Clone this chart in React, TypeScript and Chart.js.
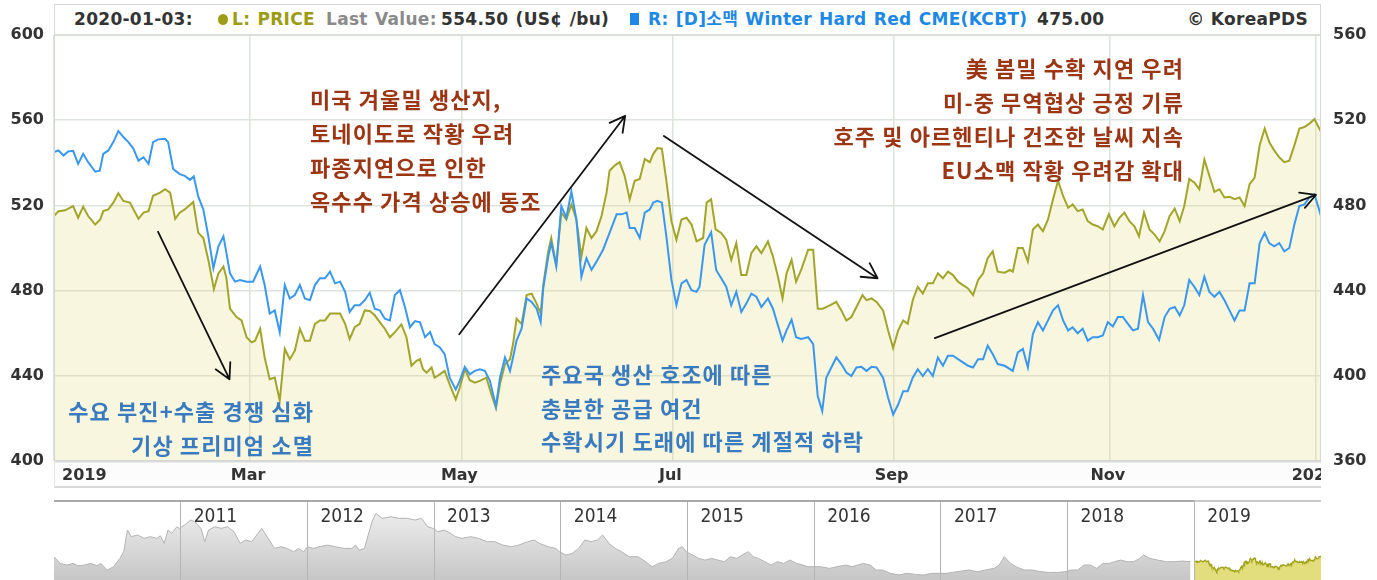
import React, { useEffect, useRef } from 'react';
import { Chart, registerables } from 'chart.js';

Chart.register(...registerables);

// ---- axis ticks (x = trading-day index in 2019 .. 2020-01-03) ----
const xTickIndex = [0, 39, 81, 123, 167, 210, 251];
const xTickLabels = ['2019', 'Mar', 'May', 'Jul', 'Sep', 'Nov', '2020'];
const leftTicks = [400, 440, 480, 520, 560, 600];
const rightTicks = [360, 400, 440, 480, 520, 560];

// ---- L: PRICE (US¢/bu) [trading-day index, value] ----
const priceSeries: [number, number][] = [
  [0, 515.0], [0.9, 517.3], [2.2, 517.7], [3.8, 519.7], [4.8, 514.2], [5.8, 519.4], [6.8, 515.0], [8.2, 511.0], [9.2, 513.4], [9.8, 517.3],
  [10.8, 518.1], [11.8, 521.3], [12.8, 525.7], [13.8, 522.1], [15.1, 521.3], [16.8, 513.7], [17.8, 516.6], [18.8, 517.3], [19.7, 524.5], [21.1, 526.0],
  [22.1, 527.6], [23.1, 526.0], [24.1, 513.7], [25.0, 516.6], [26.0, 518.1], [27.7, 521.6], [28.7, 507.1], [29.7, 504.7], [30.7, 494.4], [31.8, 480.7],
  [32.7, 488.1], [33.7, 491.3], [34.3, 485.8], [35.0, 471.5], [36.3, 467.6], [37.3, 466.0], [38.3, 458.1], [39.3, 455.7], [40.0, 456.5], [41.0, 462.1],
  [41.9, 448.6], [42.9, 438.4], [43.9, 439.2], [44.9, 428.4], [45.9, 452.6], [46.9, 447.8], [47.9, 451.8], [48.9, 462.1], [49.9, 456.5], [50.9, 456.5],
  [51.9, 464.4], [52.9, 466.0], [53.9, 466.0], [54.9, 469.2], [56.9, 469.2], [57.9, 464.4], [58.8, 457.3], [59.8, 462.8], [60.8, 464.4], [61.8, 470.7],
  [62.8, 470.4], [63.8, 468.4], [64.8, 465.2], [65.8, 462.1], [66.8, 458.1], [67.8, 460.5], [69.1, 464.1], [70.1, 458.1], [71.1, 444.7], [72.1, 447.0],
  [72.8, 447.8], [73.4, 443.1], [74.1, 441.5], [75.1, 443.9], [75.7, 439.1], [76.7, 440.7], [77.7, 442.3], [78.7, 436.0], [79.9, 428.9], [80.7, 434.4],
  [81.7, 443.1], [82.7, 437.9], [83.7, 436.8], [84.7, 437.6], [86.0, 439.1], [87.0, 431.2], [87.9, 424.9], [88.7, 436.0], [89.7, 445.5], [90.7, 447.8],
  [91.3, 454.9], [92.0, 466.8], [93.0, 464.4], [94.0, 477.9], [95.0, 478.6], [96.0, 473.9], [96.8, 469.2], [97.3, 482.6], [98.3, 498.4], [98.9, 504.7],
  [99.9, 492.1], [100.9, 516.6], [101.9, 513.4], [102.9, 520.5], [103.9, 513.4], [104.9, 496.0], [105.9, 509.4], [106.9, 504.7], [107.9, 507.9], [108.9, 515.0],
  [109.9, 526.0], [110.5, 536.3], [111.5, 538.7], [112.5, 540.3], [113.5, 533.9], [114.5, 522.9], [115.5, 531.6], [116.5, 532.4], [117.5, 541.8], [118.5, 540.3],
  [119.2, 544.2], [120.0, 546.9], [120.9, 546.6], [121.8, 531.6], [122.8, 512.6], [123.8, 503.9], [124.8, 513.4], [125.8, 514.2], [126.8, 511.0], [127.8, 503.1],
  [129.1, 504.7], [129.8, 521.3], [130.7, 522.9], [131.6, 508.7], [132.7, 507.1], [133.7, 503.9], [134.7, 494.4], [135.7, 502.3], [136.7, 487.3], [137.7, 487.3],
  [138.7, 497.6], [139.7, 500.8], [140.7, 497.6], [142.0, 503.1], [143.0, 496.0], [144.0, 486.5], [144.9, 476.3], [145.7, 488.1], [146.7, 494.4], [147.6, 484.2],
  [148.6, 489.7], [150.0, 499.2], [151.0, 499.2], [151.9, 471.5], [152.9, 471.5], [154.3, 473.1], [155.6, 474.7], [156.6, 470.7], [157.6, 466.0], [158.6, 467.6],
  [159.6, 472.3], [160.8, 477.9], [161.6, 475.5], [162.6, 476.3], [163.6, 474.7], [164.9, 470.7], [165.9, 461.3], [166.9, 453.0], [167.9, 461.3], [168.9, 466.0],
  [169.8, 464.4], [170.8, 475.5], [171.8, 481.8], [172.8, 478.6], [173.8, 483.4], [174.8, 483.4], [175.8, 488.1], [176.8, 485.8], [177.8, 488.9], [178.8, 487.3],
  [179.8, 484.2], [180.8, 482.6], [181.8, 481.0], [182.8, 477.9], [183.8, 485.0], [184.8, 488.1], [185.7, 495.2], [186.7, 498.4], [187.7, 488.9], [189.1, 488.4],
  [190.1, 489.7], [190.7, 488.9], [191.7, 500.0], [192.7, 500.0], [193.7, 493.6], [194.7, 508.7], [195.7, 511.0], [196.7, 507.9], [197.7, 513.4], [198.7, 522.9],
  [199.7, 531.6], [200.7, 524.5], [201.7, 518.9], [202.6, 520.5], [203.6, 517.3], [204.6, 518.1], [205.6, 512.6], [206.6, 511.0], [207.6, 510.2], [208.6, 508.7],
  [209.8, 515.8], [210.9, 510.2], [211.9, 514.2], [212.9, 516.6], [213.9, 512.6], [214.9, 510.2], [215.8, 505.5], [216.8, 516.6], [217.9, 508.7], [218.9, 506.3],
  [219.9, 503.1], [220.9, 507.9], [221.9, 515.0], [222.9, 518.5], [223.9, 512.6], [224.8, 519.7], [225.8, 532.4], [226.8, 530.8], [227.8, 527.6], [228.8, 541.5],
  [229.8, 533.9], [230.8, 526.4], [231.8, 527.6], [232.8, 523.7], [233.8, 524.1], [234.8, 522.9], [235.8, 523.7], [236.8, 519.7], [237.8, 530.0], [238.8, 533.1],
  [239.8, 548.2], [240.8, 556.1], [241.7, 549.7], [242.7, 545.8], [243.7, 542.6], [244.7, 540.3], [245.7, 541.0], [246.7, 548.2], [247.7, 556.1], [248.7, 556.8],
  [249.7, 558.4], [250.7, 560.5], [252, 554.5],
];

// ---- R: [D]소맥 Winter Hard Red CME(KCBT) [trading-day index, value] ----
const kcbtSeries: [number, number][] = [
  [0, 505.0], [0.9, 505.8], [1.9, 503.4], [2.8, 505.3], [3.8, 505.6], [4.8, 499.5], [5.8, 504.2], [6.8, 500.3], [8.2, 495.8], [9.1, 496.3],
  [9.8, 504.2], [10.8, 505.8], [11.8, 509.7], [12.8, 514.9], [13.8, 512.1], [14.8, 509.7], [15.8, 506.6], [16.8, 501.0], [17.8, 502.6], [18.8, 499.5],
  [19.7, 509.7], [20.7, 511.0], [22.1, 511.3], [22.7, 509.7], [23.7, 497.1], [25.0, 494.7], [26.0, 493.9], [27.0, 492.0], [27.8, 493.6], [28.7, 484.1],
  [29.7, 478.1], [30.7, 465.5], [31.7, 450.5], [32.7, 460.8], [33.7, 465.5], [34.3, 457.6], [35.0, 448.1], [36.0, 444.2], [37.0, 445.0], [38.3, 444.2],
  [39.6, 444.2], [41.0, 451.3], [41.9, 442.6], [42.9, 429.2], [43.9, 430.7], [44.9, 420.5], [45.9, 442.6], [46.9, 436.3], [47.9, 437.9], [48.9, 442.6],
  [49.9, 436.3], [50.9, 435.5], [51.9, 442.6], [52.9, 445.8], [53.9, 445.8], [54.9, 448.9], [55.9, 443.4], [56.9, 444.2], [57.9, 439.4], [58.8, 430.0],
  [59.8, 433.1], [60.8, 433.1], [61.8, 435.5], [62.8, 439.0], [63.8, 431.5], [64.8, 430.7], [65.8, 426.8], [66.8, 426.0], [67.8, 437.9], [68.8, 440.2],
  [69.8, 432.3], [70.8, 422.8], [71.8, 425.7], [72.8, 425.1], [73.8, 418.1], [74.8, 420.5], [75.7, 414.9], [76.7, 413.4], [77.7, 410.2], [78.7, 399.1],
  [79.9, 393.6], [80.7, 397.6], [81.7, 404.2], [82.7, 400.7], [83.7, 402.3], [84.7, 403.1], [85.7, 402.3], [86.7, 397.6], [87.9, 385.7], [88.7, 399.1],
  [89.7, 408.6], [90.7, 402.3], [91.3, 408.6], [92.0, 416.5], [93.0, 422.1], [94.0, 436.3], [95.0, 434.7], [96.0, 431.5], [96.8, 425.2], [97.3, 441.0],
  [98.3, 456.0], [98.9, 462.3], [99.9, 451.3], [100.9, 479.7], [101.9, 474.2], [102.9, 486.4], [103.9, 473.4], [104.9, 446.5], [105.9, 455.2], [106.9, 449.7],
  [107.9, 453.6], [109.2, 459.2], [110.5, 467.1], [111.9, 475.8], [112.9, 475.8], [113.9, 476.6], [114.5, 469.4], [115.5, 469.4], [116.5, 464.7], [117.5, 476.6],
  [118.5, 478.1], [119.2, 481.3], [120.0, 482.1], [120.9, 481.3], [121.8, 465.5], [122.8, 445.0], [123.8, 433.1], [124.8, 443.4], [125.8, 445.0], [126.8, 440.2],
  [127.8, 439.4], [128.4, 441.8], [129.4, 461.5], [130.7, 467.4], [131.7, 449.7], [132.7, 445.8], [133.7, 441.8], [134.7, 433.1], [135.7, 439.4], [136.7, 430.0],
  [137.7, 433.9], [138.7, 438.6], [139.7, 437.1], [140.7, 432.3], [142.0, 436.3], [143.0, 431.5], [144.0, 423.6], [144.9, 416.5], [145.7, 421.3], [146.7, 426.3],
  [147.6, 418.1], [148.6, 417.3], [150.0, 418.1], [151.0, 414.9], [151.9, 390.5], [152.8, 383.4], [153.6, 399.1], [154.6, 403.9], [155.6, 408.6], [156.6, 405.5],
  [157.6, 401.5], [158.6, 399.9], [159.6, 403.9], [160.6, 404.2], [161.6, 402.3], [162.6, 404.2], [163.6, 403.9], [164.9, 399.1], [165.9, 389.7], [166.9, 381.8],
  [167.9, 386.5], [168.9, 392.8], [169.8, 392.8], [170.8, 399.1], [171.8, 403.1], [172.8, 399.9], [173.8, 403.1], [174.8, 399.9], [175.8, 408.6], [176.8, 404.7],
  [177.8, 409.4], [178.8, 409.4], [179.8, 407.8], [180.8, 406.3], [181.8, 404.7], [182.8, 403.9], [183.8, 407.8], [184.8, 407.8], [185.7, 414.2], [186.7, 410.2],
  [187.7, 405.5], [189.1, 404.7], [190.7, 402.3], [191.7, 411.0], [192.7, 412.6], [193.7, 403.9], [194.7, 419.7], [195.7, 425.2], [196.7, 421.3], [197.7, 426.0],
  [198.7, 430.7], [199.7, 433.1], [200.7, 426.0], [201.7, 421.3], [202.6, 422.8], [203.6, 420.0], [204.6, 422.1], [205.6, 416.5], [206.6, 418.1], [207.6, 418.1],
  [208.6, 418.9], [209.6, 425.2], [210.6, 423.2], [211.6, 427.6], [212.6, 427.6], [213.6, 424.4], [214.6, 421.3], [215.6, 422.1], [216.6, 437.9], [217.6, 425.2],
  [218.6, 422.1], [219.8, 416.8], [220.9, 427.6], [221.9, 431.5], [222.9, 432.3], [223.9, 428.4], [224.8, 433.1], [225.8, 445.0], [226.8, 441.8], [227.8, 437.9],
  [228.8, 446.5], [229.8, 439.4], [230.8, 437.1], [231.8, 439.4], [232.8, 435.5], [233.8, 430.7], [234.8, 426.0], [235.8, 430.7], [236.8, 430.7], [237.8, 443.4],
  [238.8, 443.4], [239.8, 462.3], [240.8, 467.1], [241.7, 462.3], [242.7, 460.8], [243.7, 462.3], [244.7, 458.4], [245.7, 460.0], [246.7, 471.0], [247.7, 479.7],
  [248.7, 480.5], [249.7, 483.7], [250.7, 485.2], [252, 475.0],
];

// ---- navigator: PRICE history 2010-2018 [year, value] ----
const historyPrice: [number, number][] = [
  [2010.0, 557], [2010.05, 501], [2010.1, 487], [2010.15, 501], [2010.19, 481], [2010.24, 487], [2010.29, 501], [2010.34, 481], [2010.37, 501], [2010.42, 445],
  [2010.47, 473], [2010.52, 543], [2010.55, 599], [2010.58, 782], [2010.61, 726], [2010.66, 740], [2010.71, 712], [2010.76, 726], [2010.81, 712], [2010.84, 734],
  [2010.87, 670], [2010.9, 782], [2010.93, 754], [2010.97, 810], [2010.99, 796], [2011.03, 824], [2011.08, 866], [2011.11, 852], [2011.16, 796], [2011.19, 684],
  [2011.22, 782], [2011.27, 810], [2011.32, 796], [2011.37, 810], [2011.42, 768], [2011.47, 670], [2011.51, 698], [2011.56, 684], [2011.61, 754], [2011.64, 796],
  [2011.69, 712], [2011.74, 627], [2011.79, 641], [2011.84, 627], [2011.89, 599], [2011.93, 627], [2011.97, 599], [2012.0, 641], [2012.05, 627], [2012.09, 641],
  [2012.16, 655], [2012.22, 641], [2012.29, 627], [2012.35, 627], [2012.38, 655], [2012.41, 613], [2012.45, 627], [2012.48, 740], [2012.51, 852], [2012.54, 922],
  [2012.59, 880], [2012.66, 894], [2012.72, 880], [2012.79, 880], [2012.85, 866], [2012.9, 880], [2012.95, 810], [2012.99, 796], [2013.03, 768], [2013.08, 782],
  [2013.13, 754], [2013.17, 726], [2013.22, 712], [2013.29, 726], [2013.35, 712], [2013.42, 684], [2013.48, 684], [2013.54, 656], [2013.61, 641], [2013.67, 656],
  [2013.74, 684], [2013.79, 698], [2013.83, 670], [2013.9, 641], [2013.96, 627], [2013.99, 599], [2014.04, 571], [2014.09, 585], [2014.14, 627], [2014.19, 698],
  [2014.24, 684], [2014.29, 698], [2014.33, 740], [2014.38, 670], [2014.43, 627], [2014.48, 599], [2014.54, 557], [2014.61, 557], [2014.67, 515], [2014.72, 473],
  [2014.77, 501], [2014.83, 515], [2014.88, 543], [2014.93, 627], [2014.96, 641], [2014.99, 599], [2015.04, 571], [2015.09, 543], [2015.14, 529], [2015.19, 543],
  [2015.24, 529], [2015.29, 515], [2015.34, 557], [2015.39, 543], [2015.43, 571], [2015.48, 599], [2015.52, 557], [2015.56, 543], [2015.61, 515], [2015.66, 487],
  [2015.71, 515], [2015.76, 501], [2015.81, 529], [2015.86, 501], [2015.91, 487], [2015.95, 473], [2016.0, 473], [2016.05, 473], [2016.12, 459], [2016.18, 473],
  [2016.25, 487], [2016.3, 473], [2016.34, 487], [2016.39, 501], [2016.44, 487], [2016.49, 445], [2016.54, 445], [2016.6, 417], [2016.67, 403], [2016.73, 417],
  [2016.8, 408], [2016.86, 403], [2016.93, 417], [2016.99, 417], [2017.04, 417], [2017.09, 425], [2017.16, 436], [2017.22, 445], [2017.29, 431], [2017.35, 445],
  [2017.42, 459], [2017.46, 487], [2017.5, 557], [2017.55, 501], [2017.59, 473], [2017.66, 445], [2017.72, 445], [2017.79, 431], [2017.85, 425], [2017.92, 425],
  [2017.98, 431], [2018.03, 445], [2018.08, 445], [2018.13, 487], [2018.18, 487], [2018.23, 459], [2018.28, 501], [2018.33, 501], [2018.37, 515], [2018.42, 529],
  [2018.47, 515], [2018.52, 515], [2018.57, 543], [2018.6, 571], [2018.65, 543], [2018.71, 529], [2018.78, 515], [2018.84, 515], [2018.91, 521], [2018.97, 515],
];
const navYears = [2011, 2012, 2013, 2014, 2015, 2016, 2017, 2018, 2019];

// ---- annotation arrows: [fromIndex, fromValue, toIndex, toValue] on left axis ----
const arrows: [number, number, number, number][] = [
  [20.7, 507.6, 34.9, 438.4],
  [80.6, 459.5, 113.6, 562.0],
  [121.3, 552.6, 163.8, 485.8],
  [175.2, 457.7, 251.0, 524.9],
];

const redNotesLeft = ['미국 겨울밀 생산지,', '토네이도로 작황 우려', '파종지연으로 인한', '옥수수 가격 상승에 동조'];
const redNotesRight = ['美 봄밀 수확 지연 우려', '미-중 무역협상 긍정 기류', '호주 및 아르헨티나 건조한 날씨 지속', 'EU소맥 작황 우려감 확대'];
const blueNotesLeft = ['수요 부진+수출 경쟁 심화', '기상 프리미엄 소멸'];
const blueNotesMid = ['주요국 생산 호조에 따른', '충분한 공급 여건', '수확시기 도래에 따른 계절적 하락'];

const OLIVE = '#a1a52a';
const BLUE = '#3a97ee';
const GRID = '#dde3dd';
const RED_TXT = '#9c3513';
const BLUE_TXT = '#3a7bbf';
const AXIS_FONT = '"DejaVu Sans", "Noto Sans CJK KR", sans-serif';
const KR_FONT = '"Noto Sans CJK KR", "Noto Sans", sans-serif';

const mainPlugin = {
  id: 'mainDecor',
  afterDatasetsDraw(chart: any) {
    const { ctx } = chart;
    const xs = chart.scales.x;
    const ys = chart.scales.y;
    ctx.save();
    ctx.strokeStyle = '#111';
    ctx.lineWidth = 1.8;
    ctx.lineCap = 'round';
    arrows.forEach(([x0, y0, x1, y1]) => {
      const ax = xs.getPixelForValue(x0);
      const ay = ys.getPixelForValue(y0);
      const bx = xs.getPixelForValue(x1);
      const by = ys.getPixelForValue(y1);
      const ang = Math.atan2(by - ay, bx - ax);
      ctx.beginPath();
      ctx.moveTo(ax, ay);
      ctx.lineTo(bx, by);
      [-1, 1].forEach((s) => {
        ctx.moveTo(bx, by);
        ctx.lineTo(bx - 17 * Math.cos(ang + s * 0.5), by - 17 * Math.sin(ang + s * 0.5));
      });
      ctx.stroke();
    });
    ctx.restore();
  },
  afterDraw(chart: any) {
    const { ctx, chartArea } = chart;
    const { left, right, top, bottom } = chartArea;
    const xs = chart.scales.x;
    const h = xs.height;
    ctx.save();
    ctx.strokeStyle = '#d3d8d3';
    ctx.lineWidth = 1;
    ctx.strokeRect(left + 0.5, top + 0.5, right - left - 1, bottom - top - 1);
    ctx.fillStyle = '#fcfcfc';
    ctx.fillRect(left, bottom, right - left, h);
    ctx.fillStyle = '#d9d9d9';
    ctx.fillRect(left, bottom, right - left, 1.5);
    ctx.fillRect(left, bottom + h - 2, right - left, 2);
    ctx.fillStyle = '#e6e6e6';
    ctx.fillRect(left, bottom, 1, h);
    ctx.beginPath();
    ctx.rect(left, bottom, right - left, h);
    ctx.clip();
    ctx.font = 'bold 16px ' + AXIS_FONT;
    ctx.fillStyle = '#333';
    ctx.textBaseline = 'middle';
    xTickIndex.forEach((v, i) => {
      const px = xs.getPixelForValue(v);
      if (i === 0) {
        ctx.textAlign = 'left';
        ctx.fillText(xTickLabels[i], px + 8, bottom + h / 2 + 1);
      } else {
        ctx.textAlign = 'center';
        ctx.fillText(xTickLabels[i], px - 2, bottom + h / 2 + 1);
      }
    });
    ctx.restore();
  },
};

const navPlugin = {
  id: 'navDecor',
  afterDraw(chart: any) {
    const { ctx, chartArea } = chart;
    const xs = chart.scales.x;
    const x19 = xs.getPixelForValue(2019);
    ctx.save();
    ctx.fillStyle = '#a9a9a9';
    ctx.fillRect(chartArea.left, chartArea.top, x19 - chartArea.left, 2);
    ctx.fillStyle = '#c9c9c9';
    ctx.fillRect(x19, chartArea.top, chartArea.right - x19, 2);
    ctx.font = '19px "DejaVu Sans Condensed", "DejaVu Sans", sans-serif';
    ctx.fillStyle = '#333';
    ctx.textBaseline = 'middle';
    ctx.textAlign = 'left';
    navYears.forEach((y) => {
      ctx.fillText(String(y), xs.getPixelForValue(y) + 13, chartArea.top + 17);
    });
    ctx.restore();
  },
};

export default function App() {
  const mainRef = useRef<HTMLCanvasElement | null>(null);
  const navRef = useRef<HTMLCanvasElement | null>(null);

  useEffect(() => {
    if (!mainRef.current || !navRef.current) return;
    const tickFont = { family: AXIS_FONT, weight: 'bold' as const, size: 16 };
    const main = new Chart(mainRef.current, {
      type: 'line',
      data: {
        datasets: [
          {
            label: 'KCBT',
            data: kcbtSeries.map(([x, y]) => ({ x, y })),
            yAxisID: 'y1',
            borderColor: BLUE,
            borderWidth: 2,
            pointRadius: 0,
            fill: false,
            tension: 0,
            order: 0,
          },
          {
            label: 'PRICE',
            data: priceSeries.map(([x, y]) => ({ x, y })),
            yAxisID: 'y',
            borderColor: OLIVE,
            borderWidth: 2,
            pointRadius: 0,
            fill: 'start',
            backgroundColor: 'rgba(227,219,123,0.25)',
            tension: 0,
            order: 1,
          },
        ],
      },
      options: {
        animation: false,
        responsive: false,
        devicePixelRatio: 1,
        events: [],
        layout: { padding: { left: 0, right: 0, top: 35, bottom: 92 } },
        plugins: { legend: { display: false }, tooltip: { enabled: false } },
        scales: {
          x: {
            type: 'linear',
            min: 0,
            max: 252,
            afterBuildTicks: (s: any) => {
              s.ticks = xTickIndex.map((v) => ({ value: v }));
            },
            afterFit: (s: any) => {
              s.height = 27;
            },
            ticks: { display: false },
            grid: { color: GRID, lineWidth: 1.5, drawTicks: false },
            border: { display: false },
          },
          y: {
            type: 'linear',
            position: 'left',
            min: 400,
            max: 600,
            afterBuildTicks: (s: any) => {
              s.ticks = leftTicks.map((v) => ({ value: v }));
            },
            afterFit: (s: any) => {
              s.width = 54;
            },
            ticks: { font: tickFont, color: '#333', padding: 10 },
            grid: { color: GRID, lineWidth: 1.5, drawTicks: false },
            border: { display: false },
          },
          y1: {
            type: 'linear',
            position: 'right',
            min: 360,
            max: 560,
            afterBuildTicks: (s: any) => {
              s.ticks = rightTicks.map((v) => ({ value: v }));
            },
            afterFit: (s: any) => {
              s.width = 56;
            },
            ticks: { font: tickFont, color: '#333', padding: 12 },
            grid: { display: false, drawTicks: false },
            border: { display: false },
          },
        },
      },
      plugins: [mainPlugin],
    });

    const nav = new Chart(navRef.current, {
      type: 'line',
      data: {
        datasets: [
          {
            data: historyPrice.map(([x, y]) => ({ x, y })),
            borderColor: '#b3b3b3',
            borderWidth: 1,
            pointRadius: 0,
            fill: 'start',
            backgroundColor: (c: any) => {
              const area = c.chart.chartArea;
              if (!area) return '#d6d6d6';
              const g = c.chart.ctx.createLinearGradient(0, area.top, 0, area.bottom);
              g.addColorStop(0, '#f4f4f4');
              g.addColorStop(1, '#c6c6c6');
              return g;
            },
            tension: 0,
          },
          {
            data: priceSeries.map(([i, v]) => ({ x: 2019 + i / 252, y: v })),
            borderColor: '#a0a21a',
            borderWidth: 1.2,
            pointRadius: 0,
            fill: 'start',
            backgroundColor: '#e2de7e',
            tension: 0,
          },
        ],
      },
      options: {
        animation: false,
        responsive: false,
        devicePixelRatio: 1,
        events: [],
        layout: { padding: 0 },
        plugins: { legend: { display: false }, tooltip: { enabled: false } },
        scales: {
          x: {
            type: 'linear',
            min: 2010,
            max: 2020,
            afterBuildTicks: (s: any) => {
              s.ticks = navYears.map((v) => ({ value: v }));
            },
            ticks: { display: false },
            grid: { color: '#b4b4b4', lineWidth: 1, drawTicks: false, z: 1 },
            border: { display: false },
          },
          y: { display: false, min: 361, max: 1035 },
        },
      },
      plugins: [navPlugin],
    });

    return () => {
      main.destroy();
      nav.destroy();
    };
  }, []);

  const hdr: React.CSSProperties = {
    position: 'absolute',
    top: 9,
    lineHeight: '20px',
    fontFamily: AXIS_FONT,
    fontWeight: 'bold',
    fontSize: 17,
    letterSpacing: '0.3px',
    wordSpacing: '1px',
    whiteSpace: 'pre',
  };
  const note: React.CSSProperties = {
    position: 'absolute',
    fontFamily: KR_FONT,
    fontWeight: 700,
    fontSize: 22,
    letterSpacing: '1.1px',
    lineHeight: '34px',
    whiteSpace: 'pre',
  };

  return (
    <div style={{ position: 'fixed', left: 0, top: 0, width: 1377, height: 580, overflow: 'hidden', background: '#fff' }}>
      <canvas ref={mainRef} width={1377} height={580} style={{ position: 'absolute', left: 0, top: 0, width: 1377, height: 580 }} />
      <canvas ref={navRef} width={1267} height={80} style={{ position: 'absolute', left: 54, top: 500, width: 1267, height: 80 }} />

      {/* header */}
      <div style={{ position: 'absolute', left: 54, top: 4, width: 1267, height: 32, boxSizing: 'border-box', border: '1px solid #d8d8d8', borderBottom: '2px solid #d9ded9', background: '#fff' }} />
      <span style={{ ...hdr, left: 74, color: '#333' }}>2020-01-03:</span>
      <span style={{ position: 'absolute', left: 218, top: 14, width: 10, height: 11, borderRadius: '50%', background: '#9c9c18' }} />
      <span style={{ ...hdr, left: 232, color: '#9c9c14' }}>L: PRICE</span>
      <span style={{ ...hdr, left: 326, color: '#8a8a8a' }}>Last Value:</span>
      <span style={{ ...hdr, left: 441, color: '#333' }}>554.50 (US¢ /bu)</span>
      <span style={{ position: 'absolute', left: 630, top: 13, width: 9, height: 12, background: '#1e88e5' }} />
      <span style={{ ...hdr, left: 648, color: '#1e88e5' }}>R: [D]소맥 Winter Hard Red CME(KCBT)</span>
      <span style={{ ...hdr, left: 1037, color: '#333' }}>475.00</span>
      <span style={{ ...hdr, right: 1377 - 1308, color: '#333', wordSpacing: '0px' }}>© KoreaPDS</span>

      {/* annotations */}
      <div style={{ ...note, left: 310, top: 81, color: RED_TXT }}>{redNotesLeft.join('\n')}</div>
      <div style={{ ...note, right: 1377 - 1184, top: 50, color: RED_TXT, textAlign: 'right' }}>{redNotesRight.join('\n')}</div>
      <div style={{ ...note, right: 1377 - 314, top: 393, color: BLUE_TXT, textAlign: 'right' }}>{blueNotesLeft.join('\n')}</div>
      <div style={{ ...note, left: 541, top: 357, color: BLUE_TXT, lineHeight: '33.5px' }}>{blueNotesMid.join('\n')}</div>
    </div>
  );
}
